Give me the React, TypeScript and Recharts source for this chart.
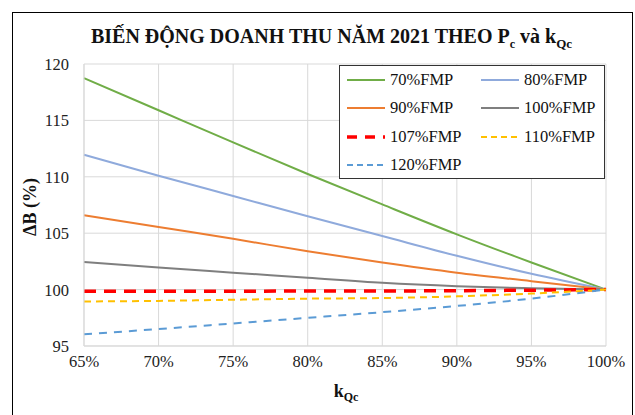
import React from "react";
import {
  LineChart,
  CartesianGrid,
  XAxis,
  YAxis,
  Line,
  Label,
} from "recharts";

// k_Qc values (%)
const kQc = [65, 70, 75, 80, 85, 90, 95, 100];

const fmp70 = [118.75, 115.9, 113.05, 110.25, 107.55, 104.9, 102.4, 100];
const fmp80 = [111.95, 110.1, 108.3, 106.5, 104.75, 103.0, 101.4, 100];
const fmp90 = [106.6, 105.55, 104.5, 103.4, 102.4, 101.5, 100.75, 100];
const fmp100 = [102.45, 101.95, 101.5, 101.05, 100.6, 100.3, 100.12, 100];
const fmp107 = [99.85, 99.85, 99.86, 99.87, 99.88, 99.9, 99.95, 100];
const fmp110 = [98.95, 99.0, 99.1, 99.2, 99.25, 99.4, 99.65, 100];
const fmp120 = [96.05, 96.5, 97.0, 97.5, 98.0, 98.55, 99.2, 100];

const yTicks = [95, 100, 105, 110, 115, 120];

const series = [
  { key: "fmp70", name: "70%FMP", values: fmp70, color: "#70AD47", width: 2, dash: undefined },
  { key: "fmp80", name: "80%FMP", values: fmp80, color: "#8FAADC", width: 2, dash: undefined },
  { key: "fmp90", name: "90%FMP", values: fmp90, color: "#ED7D31", width: 2, dash: undefined },
  { key: "fmp100", name: "100%FMP", values: fmp100, color: "#7F7F7F", width: 2, dash: undefined },
  { key: "fmp107", name: "107%FMP", values: fmp107, color: "#FF0000", width: 3.5, dash: "12 8" },
  { key: "fmp110", name: "110%FMP", values: fmp110, color: "#FFC000", width: 2, dash: "7 5" },
  { key: "fmp120", name: "120%FMP", values: fmp120, color: "#5B9BD5", width: 2, dash: "8 7" },
];

const data = kQc.map((k, i) => {
  const row: any = { k };
  series.forEach((s) => (row[s.key] = s.values[i]));
  return row;
});

const serif = "'Liberation Serif', 'Times New Roman', serif";

const XTick = ({ x, y, payload }: any) => (
  <text x={x} y={y + 19} textAnchor="middle" style={{ fontFamily: serif }} fontSize={16.5} fill="#222">
    {payload.value}%
  </text>
);

const YTick = ({ x, y, payload }: any) => (
  <text x={x} y={y + 6} textAnchor="end" style={{ fontFamily: serif }} fontSize={16.5} fill="#222">
    {payload.value}
  </text>
);

const LegendBox = () => (
  <div
    style={{
      position: "absolute",
      left: 339,
      top: 65,
      width: 266,
      height: 114,
      border: "1.5px solid #333",
      background: "#fff",
      boxSizing: "border-box",
      display: "grid",
      gridTemplateColumns: "134px 130px",
      gridAutoRows: "28.3px",
      padding: "0 0 0 7px",
      fontFamily: serif,
      fontSize: 16.5,
      color: "#111",
    }}
  >
    {series.map((s) => (
      <div key={s.key} style={{ display: "flex", alignItems: "center" }}>
        <svg width={38} height={6} style={{ marginRight: 5 }}>
          <line
            x1={0}
            y1={3}
            x2={38}
            y2={3}
            stroke={s.color}
            strokeWidth={s.width}
            strokeDasharray={s.key === "fmp107" ? "10 8" : s.dash ? "6 4" : undefined}
          />
        </svg>
        <span>{s.name}</span>
      </div>
    ))}
  </div>
);

export default function App() {
  return (
    <div
      style={{
        position: "absolute",
        left: 0,
        top: 0,
        width: 635,
        height: 415,
        background: "#fff",
        fontFamily: serif,
      }}
    >
      <div
        style={{
          position: "absolute",
          left: 12,
          top: 12,
          width: 621,
          height: 410,
          border: "1px solid #000",
          borderBottom: "none",
          boxSizing: "border-box",
        }}
      />
      <div
        style={{
          position: "absolute",
          left: 14,
          top: 25,
          width: 635,
          textAlign: "center",
          fontWeight: "bold",
          fontSize: 20,
          color: "#111",
        }}
      >
        BIẾN ĐỘNG DOANH THU NĂM 2021 THEO P<sub style={{ fontSize: 12 }}>c</sub> và k
        <sub style={{ fontSize: 13 }}>Qc</sub>
      </div>
      <div style={{ position: "absolute", left: 0, top: 0 }}>
        <LineChart
          width={635}
          height={415}
          data={data}
          margin={{ top: 64, right: 29, left: 24, bottom: 39 }}
        >
          <CartesianGrid stroke="#d9d9d9" />
          <XAxis
            dataKey="k"
            type="number"
            domain={[65, 100]}
            ticks={kQc}
            axisLine={{ stroke: "#d9d9d9" }}
            tickLine={false}
            tickSize={0}
            height={30}
            tick={<XTick />}
          >
            <Label
              content={() => (
                <text x={346} y={397} textAnchor="middle" style={{ fontFamily: serif }} fontWeight="bold" fontSize={18} fill="#111">
                  k<tspan fontSize={12} dy={4}>Qc</tspan>
                </text>
              )}
            />
          </XAxis>
          <YAxis
            domain={[95, 120]}
            ticks={yTicks}
            width={60}
            axisLine={{ stroke: "#d9d9d9" }}
            tickLine={false}
            tickSize={0}
            tickMargin={15}
            tick={<YTick />}
          >
            <Label
              content={() => (
                <text
                  x={30}
                  y={207}
                  textAnchor="middle"
                  dominantBaseline="central"
                  transform="rotate(-90, 30, 207)"
                  style={{ fontFamily: serif }}
                  fontWeight="bold"
                  fontSize={18}
                  fill="#111"
                >
                  ΔB (%)
                </text>
              )}
            />
          </YAxis>
          {series.map((s) => (
            <Line
              key={s.key}
              dataKey={s.key}
              name={s.name}
              type="monotone"
              stroke={s.color}
              strokeWidth={s.width}
              strokeDasharray={s.dash}
              dot={false}
              activeDot={false}
              isAnimationActive={false}
            />
          ))}
        </LineChart>
      </div>
      <LegendBox />
    </div>
  );
}
